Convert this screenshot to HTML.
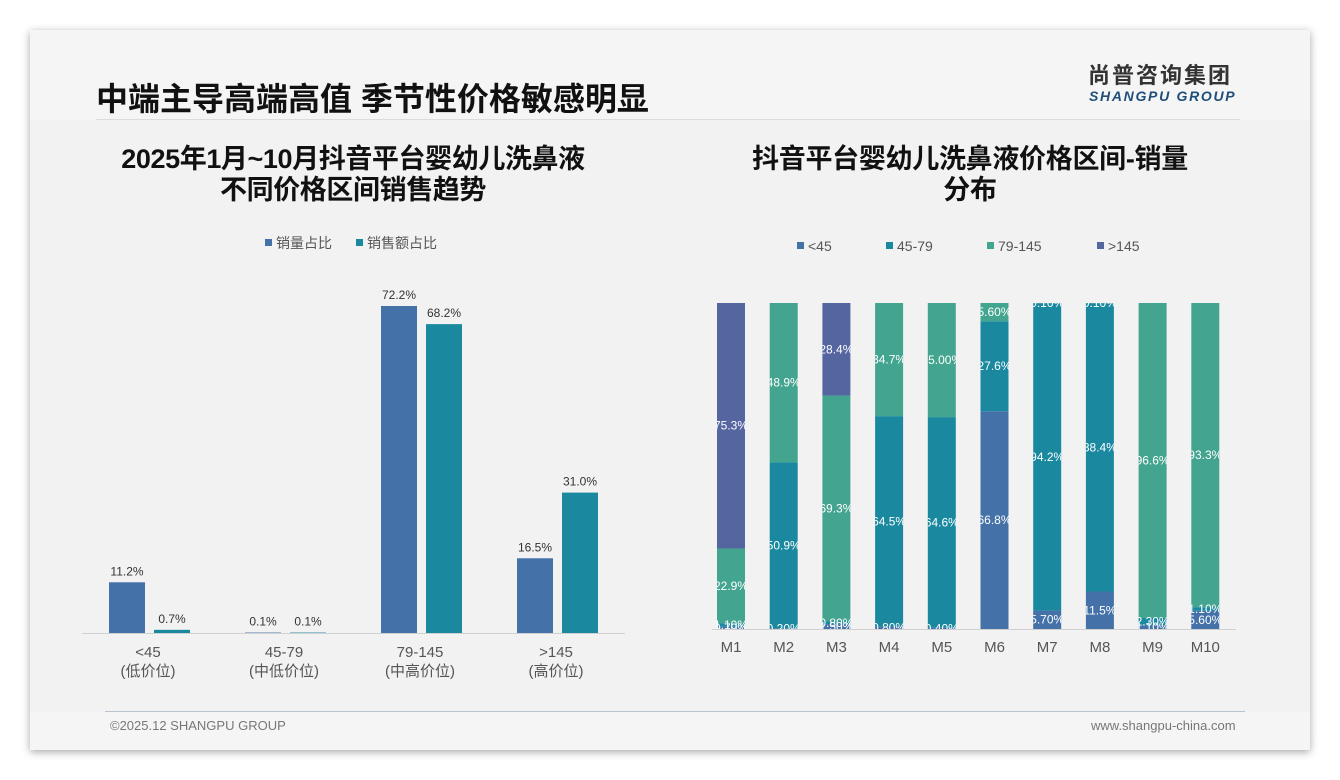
<!DOCTYPE html>
<html><head><meta charset="utf-8">
<style>
html,body{margin:0;padding:0;width:1340px;height:780px;background:#fff;overflow:hidden;font-family:"Liberation Sans","Noto Sans CJK SC",sans-serif;}
#card{position:absolute;left:30px;top:30px;width:1280px;height:720px;background:#f5f5f5;box-shadow:0 2px 8px rgba(0,0,0,0.35);}
#content{position:absolute;left:30px;top:120px;width:1280px;height:592px;background:#f2f2f2;}
.t{position:absolute;white-space:nowrap;}
</style></head><body>
<div id="card"></div>
<div id="content"></div>
<div class="t" style="left:96px;top:74px;font-size:32px;font-weight:bold;color:#111;letter-spacing:0px;">中端主导高端高值 季节性价格敏感明显</div>
<div style="position:absolute;left:96px;top:119px;width:1144px;height:1px;background:#dcdcdc;"></div>
<div class="t" style="left:1088px;top:65px;font-size:22px;line-height:22px;font-weight:bold;color:#333;letter-spacing:2px;">尚普咨询集团</div>
<div class="t" style="left:1089px;top:88px;font-size:14px;line-height:16px;font-weight:bold;font-style:italic;color:#1f4e79;letter-spacing:1.7px;">SHANGPU GROUP</div>
<div style="position:absolute;left:105px;top:711px;width:1140px;height:1px;background:#b8c4d0;"></div>
<div class="t" style="left:110px;top:718px;font-size:13px;color:#777;">©2025.12 SHANGPU GROUP</div>
<div class="t" style="left:1091px;top:718px;font-size:13px;color:#777;">www.shangpu-china.com</div>

<div class="t" style="left:53px;top:144px;width:600px;text-align:center;font-size:27px;font-weight:bold;color:#111;line-height:31px;letter-spacing:-0.4px;">2025年1月~10月抖音平台婴幼儿洗鼻液<br>不同价格区间销售趋势</div>
<div class="t" style="left:690px;top:144px;width:560px;text-align:center;font-size:27px;font-weight:bold;color:#111;line-height:31px;letter-spacing:-0.3px;">抖音平台婴幼儿洗鼻液价格区间-销量<br>分布</div>

<svg id="chart" width="1340" height="780" style="position:absolute;left:0;top:0;"></svg>
<script>
const leftCats=["<45","45-79","79-145",">145"];
const leftSub=["(低价位)","(中低价位)","(中高价位)","(高价位)"];
const volShare=[11.2,0.1,72.2,16.5];
const amtShare=[0.7,0.1,68.2,31.0];
const months=["M1","M2","M3","M4","M5","M6","M7","M8","M9","M10"];
const segNames=["<45","45-79","79-145",">145"];
const s1=[0.7,0.2,1.5,0.8,0.4,66.8,5.7,11.5,1.1,5.6];
const s2=[1.1,50.9,0.8,64.5,64.6,27.6,94.2,88.4,2.3,1.1];
const s3=[22.9,48.9,69.3,34.7,35.0,5.6,0.1,0.1,96.6,93.3];
const s4=[75.3,0,28.4,0,0,0,0,0,0,0];

const NS="http://www.w3.org/2000/svg";
const svg=document.getElementById('chart');
function mk(tag,attrs,parent){const e=document.createElementNS(NS,tag);for(const k in attrs)e.setAttribute(k,attrs[k]);(parent||svg).appendChild(e);return e;}
function txt(x,y,s,attrs){const e=mk('text',Object.assign({x:x,y:y,'font-family':'Liberation Sans, Noto Sans CJK SC, sans-serif'},attrs));e.textContent=s;return e;}

const lBase=633, lScale=327/72.2;
const lY=v=>lBase-v*lScale;
const gX=i=>150+i*136;
const cVol="#4472a8", cAmt="#1a89a0";
let r=mk('rect',{x:265,y:239,width:7,height:7,fill:cVol});

let t=txt(276,248,"销量占比",{'font-size':14,fill:'#555'});

r=mk('rect',{x:356,y:239,width:7,height:7,fill:cAmt});

t=txt(367,248,"销售额占比",{'font-size':14,fill:'#555'});

let ax=mk('line',{x1:82,y1:lBase+0.5,x2:625,y2:lBase+0.5,stroke:'#d0d0d0'});

leftCats.forEach((c,i)=>{
  const cx=gX(i);
  [[volShare[i],cx-41,cVol,'volume'],[amtShare[i],cx+4,cAmt,'amount']].forEach(([v,x,col,nm])=>{
    const b=mk('rect',{x:x,y:lY(v),width:36,height:Math.max(v*lScale,0.01),fill:col});
    
    const l=txt(x+18,lY(v)-7,v.toFixed(1)+'%',{'font-size':12,fill:'#333','text-anchor':'middle'});
    
  });
  const a=txt(cx-2,657,c,{'font-size':15,fill:'#555','text-anchor':'middle'});
  
  const b2=txt(cx-2,676,leftSub[i],{'font-size':15,fill:'#555','text-anchor':'middle'});
  
});

const rBase=629, rH=326;
const rX=i=>731+i*52.7;
const segCols=["#4472a8","#1a89a0","#43a58f","#5565a0"];
const series=[s1,s2,s3,s4];
const legX=[797,886,987,1097];
segNames.forEach((n,k)=>{
  const q=mk('rect',{x:legX[k],y:242,width:7,height:7,fill:segCols[k]});
  
  const lt=txt(legX[k]+11,251,n,{'font-size':14,fill:'#555'});
  
});
const ax2=mk('line',{x1:712,y1:rBase+0.5,x2:1236,y2:rBase+0.5,stroke:'#d0d0d0'});

const defs=mk('defs',{});
months.forEach((m,i)=>{
  const x=rX(i)-14;
  const tot=series.reduce((a,s)=>a+s[i],0);
  const cp=mk('clipPath',{id:'cp'+i},defs);
  mk('rect',{x:x,y:rBase-rH,width:28,height:rH},cp);
  let acc=0;
  series.forEach((s,k)=>{
    const v=s[i]; if(v<=0)return;
    const h=v/tot*rH, y=rBase-(acc+v)/tot*rH;
    const b=mk('rect',{x:x,y:y,width:28,height:h,fill:segCols[k]});
    
    acc+=v;
  });
  acc=0;
  series.forEach((s,k)=>{
    const v=s[i]; if(v<=0)return;
    const yc=rBase-(acc+v/2)/tot*rH;
    const lbl=(v<10||(v%1===0))?v.toFixed(2)+'%':v.toFixed(1)+'%';
    const l=txt(x+14,yc+4,lbl,{'font-size':12,fill:'#fff','text-anchor':'middle','clip-path':'url(#cp'+i+')'});
    
    acc+=v;
  });
  const ml=txt(rX(i),652,m,{'font-size':15,fill:'#555','text-anchor':'middle'});
  
});
</script>
</body></html>
